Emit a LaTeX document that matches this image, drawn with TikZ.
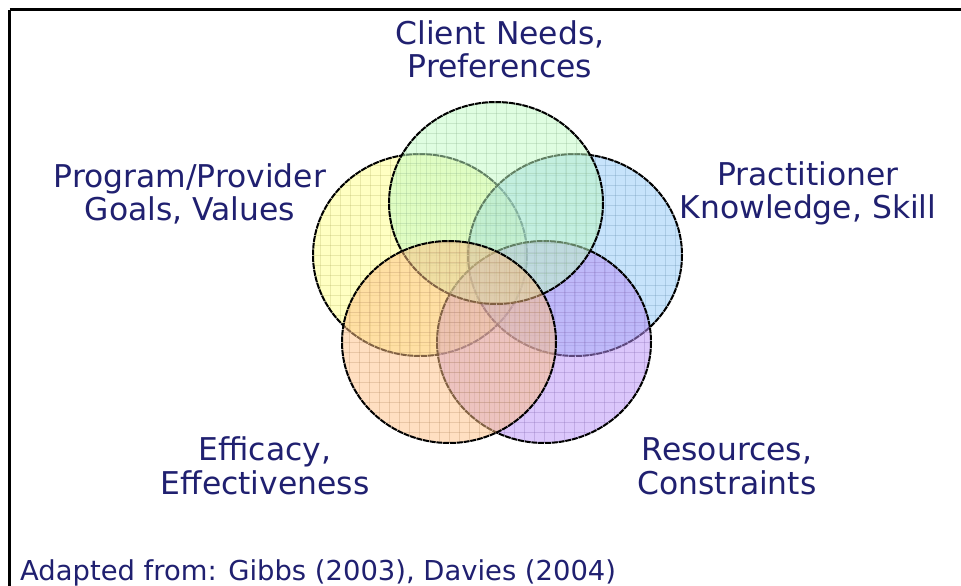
\documentclass[tikz,border=0pt]{standalone}
\usepackage{fontspec}
\setmainfont{DejaVu Sans}
\usetikzlibrary{calc}
\definecolor{navy}{HTML}{202070}
\definecolor{cgreen}{RGB}{192,252,196}
\definecolor{cyellow}{RGB}{255,255,135}
\definecolor{cblue}{RGB}{145,201,249}
\definecolor{cpurple}{RGB}{185,145,249}
\definecolor{corange}{RGB}{255,193,133}
% one gridded, translucent ellipse per factor: centre, fill colour
\newcommand{\gridset}[2]{%
  \coordinate (gc) at #1;
  \begin{scope}
    \clip #1 ellipse [x radius=107, y radius=101];
    \fill[setfill=#2] #1 ellipse [x radius=107, y radius=101];
    \foreach \k in {-11,...,11} {
      \draw[setgrid=#2] ($(gc)+(\k*10,-110)$) -- ($(gc)+(\k*10,110)$);
      \draw[setgrid=#2] ($(gc)+(-110,\k*10)$) -- ($(gc)+(110,\k*10)$);
    }
  \end{scope}
  \draw[setedge] #1 ellipse [x radius=107, y radius=101];}
\begin{document}
\begin{tikzpicture}[x=1bp,y=-1bp,
  labeltext/.style={text=navy, font=\fontsize{31.5}{34}\selectfont, align=center, inner sep=0pt, anchor=base},
  setfill/.style={fill=#1, fill opacity=0.5},
  setgrid/.style={draw=#1!70!black, draw opacity=0.28, line width=0.7bp},
  setedge/.style={draw=black, line width=2bp, dash pattern=on 6bp off 0.8bp}]
\useasboundingbox (0,0) rectangle (961,586);
\begin{scope}
\clip (0,0) rectangle (961,586);
\fill[white] (0,0) rectangle (961,586);
% outer frame (runs past the right and bottom edges)
\draw[line width=3bp] (9.5,10) -- (1200,10) (9.5,10) -- (9.5,800);
\end{scope}

% the five overlapping factors
\gridset{(420,255)}{cyellow}
\gridset{(575,255)}{cblue}
\gridset{(544,342)}{cpurple}
\gridset{(496,203)}{cgreen}
\gridset{(449,342)}{corange}

% labels (placed by the baseline of their last line)
\node[labeltext] (client) at (500,78) {Client Needs,\\Preferences};
\node[labeltext] (program) at (190,221) {Program/Provider\\Goals, Values};
\node[labeltext] (practitioner) at (808,219) {Practitioner\\Knowledge, Skill};
\node[labeltext] (efficacy) at (265,494) {Efficacy,\\Effectiveness};
\node[labeltext] (resources) at (727,494) {Resources,\\Constraints};
\node[text=navy, font=\fontsize{27.5}{30}\selectfont, inner sep=0pt, anchor=base west] (source) at (20,580)
  {Adapted from: Gibbs (2003), Davies (2004)};
\end{tikzpicture}
\end{document}
